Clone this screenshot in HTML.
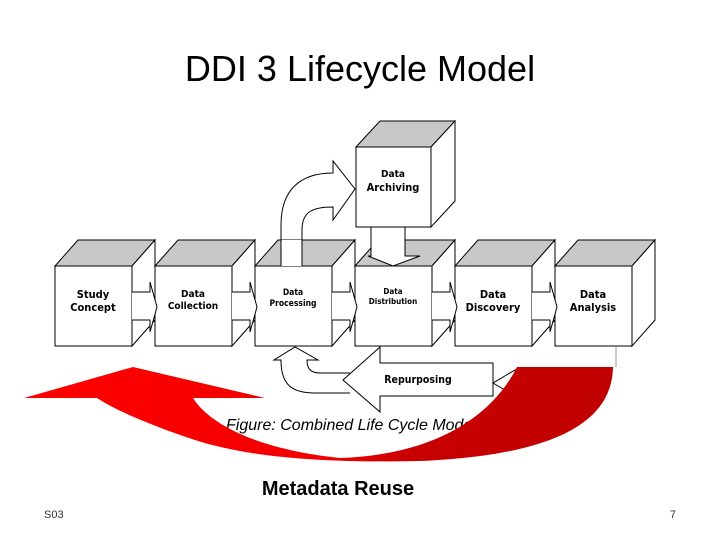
<!DOCTYPE html>
<html><head><meta charset="utf-8"><style>
html,body{margin:0;padding:0;background:#fff;}
svg{display:block;}
</style></head><body>
<svg width="720" height="540" viewBox="0 0 720 540" xmlns="http://www.w3.org/2000/svg">
<rect width="720" height="540" fill="#fff"/>
<text x="360" y="81" text-anchor="middle" font-family="Liberation Sans, sans-serif" font-size="36" fill="#000">DDI 3 Lifecycle Model</text>

<g stroke="#000" stroke-width="1" font-family="DejaVu Sans Condensed, DejaVu Sans, sans-serif" font-weight="bold" text-anchor="middle">
<path d="M281,266 L281,225 C281,190 300,173 333,173 L333,161 L355,189 L333,220 L333,207 C312,207 302,212 302,230 L302,266 Z" fill="#fff"/>

<path d="M55,266 L78,240 L155,240 L132,266 Z" fill="#c8c8c8"/>
<path d="M132,266 L155,240 L155,320 L132,346 Z" fill="#fff"/>
<rect x="55" y="266" width="77" height="80" fill="#fff"/>
<path d="M155,266 L178,240 L255,240 L232,266 Z" fill="#c8c8c8"/>
<path d="M232,266 L255,240 L255,320 L232,346 Z" fill="#fff"/>
<rect x="155" y="266" width="77" height="80" fill="#fff"/>
<path d="M255,266 L278,240 L355,240 L332,266 Z" fill="#c8c8c8"/>
<path d="M332,266 L355,240 L355,320 L332,346 Z" fill="#fff"/>
<rect x="255" y="266" width="77" height="80" fill="#fff"/>
<path d="M355,266 L378,240 L455,240 L432,266 Z" fill="#c8c8c8"/>
<path d="M432,266 L455,240 L455,320 L432,346 Z" fill="#fff"/>
<rect x="355" y="266" width="77" height="80" fill="#fff"/>
<path d="M455,266 L478,240 L555,240 L532,266 Z" fill="#c8c8c8"/>
<path d="M532,266 L555,240 L555,320 L532,346 Z" fill="#fff"/>
<rect x="455" y="266" width="77" height="80" fill="#fff"/>
<path d="M555,266 L578,240 L655,240 L632,266 Z" fill="#c8c8c8"/>
<path d="M632,266 L655,240 L655,320 L632,346 Z" fill="#fff"/>
<rect x="555" y="266" width="77" height="80" fill="#fff"/>

<path d="M281,266 L281,240 L302,240 L302,266" fill="#fff" stroke="none"/>
<line x1="281" y1="240" x2="281" y2="266"/><line x1="302" y1="240" x2="302" y2="266"/>

<path d="M356,147 L380,121 L455,121 L431,147 Z" fill="#c8c8c8"/>
<path d="M431,147 L455,121 L455,201 L431,227 Z" fill="#fff"/>
<rect x="356" y="147" width="75" height="80" fill="#fff"/>
<path d="M371,227 L371,256 L368,256 L393,266 L420,256 L405,256 L405,227 Z" fill="#fff"/>

<g fill="#fff">
<path d="M132,292 L150,292 L150,282 L157,307 L150,332 L150,320 L132,320"/>
<path d="M232,292 L250,292 L250,282 L257,307 L250,332 L250,320 L232,320"/>
<path d="M332,292 L350,292 L350,282 L357,307 L350,332 L350,320 L332,320"/>
<path d="M432,292 L450,292 L450,282 L457,307 L450,332 L450,320 L432,320"/>
<path d="M532,292 L550,292 L550,282 L557,307 L550,332 L550,320 L532,320"/>
</g>

<line x1="616" y1="346" x2="616" y2="367" stroke="#999"/>
<path d="M350,373 L320,373 C310,373 307,368 307,360 L318,360 L295,347 L274,360 L281,360 C281,385 292,393 315,393 L350,393" fill="#fff"/>
<line x1="380" y1="346" x2="380" y2="363"/>
<path d="M493,363 L380,363 L380,347 L343,380 L380,412 L380,396 L493,396 Z" fill="#fff"/>
<path d="M493,383 L515,370 L515,396 Z" fill="#fff"/>

<g font-size="11" stroke="none" fill="#000">
<text x="93" y="298">Study</text><text x="93" y="311">Concept</text>
<text x="193" y="297" font-size="10">Data</text><text x="193" y="309" font-size="10">Collection</text>
<text x="293" y="295" font-size="8.5">Data</text><text x="293" y="306" font-size="8.5">Processing</text>
<text x="393" y="294" font-size="8">Data</text><text x="393" y="304" font-size="8">Distribution</text>
<text x="493" y="298">Data</text><text x="493" y="311">Discovery</text>
<text x="593" y="298">Data</text><text x="593" y="311">Analysis</text>
<text x="393" y="177" font-size="10">Data</text><text x="393" y="191">Archiving</text>
<text x="418" y="383" font-size="10.5">Repurposing</text>
</g>
</g>

<text x="226" y="430" font-family="Liberation Sans, sans-serif" font-style="italic" font-size="16" fill="#000">Figure: Combined Life Cycle Model</text>

<defs><linearGradient id="rg" x1="0" x2="1" y1="0" y2="0">
<stop offset="0" stop-color="#ff0000"/><stop offset="0.5" stop-color="#f20000"/><stop offset="0.66" stop-color="#c80000"/><stop offset="1" stop-color="#c00000"/></linearGradient></defs>
<path d="M24,398 L133,367 L265,398 L193,398 C210,425 260,450 340,458 C430,455 490,420 517,367 L613,367 C612,420 560,455 420,461 C330,463 250,458 195,440 C150,425 115,410 97,398 Z" fill="url(#rg)" gradientUnits="userSpaceOnUse"/>

<text x="338" y="495" text-anchor="middle" font-family="Liberation Sans, sans-serif" font-weight="bold" font-size="20" fill="#000">Metadata Reuse</text>
<text x="44" y="518" font-family="Liberation Sans, sans-serif" font-size="11" fill="#333">S03</text>
<text x="676" y="518" text-anchor="end" font-family="Liberation Sans, sans-serif" font-size="11" fill="#333">7</text>
</svg>
</body></html>
